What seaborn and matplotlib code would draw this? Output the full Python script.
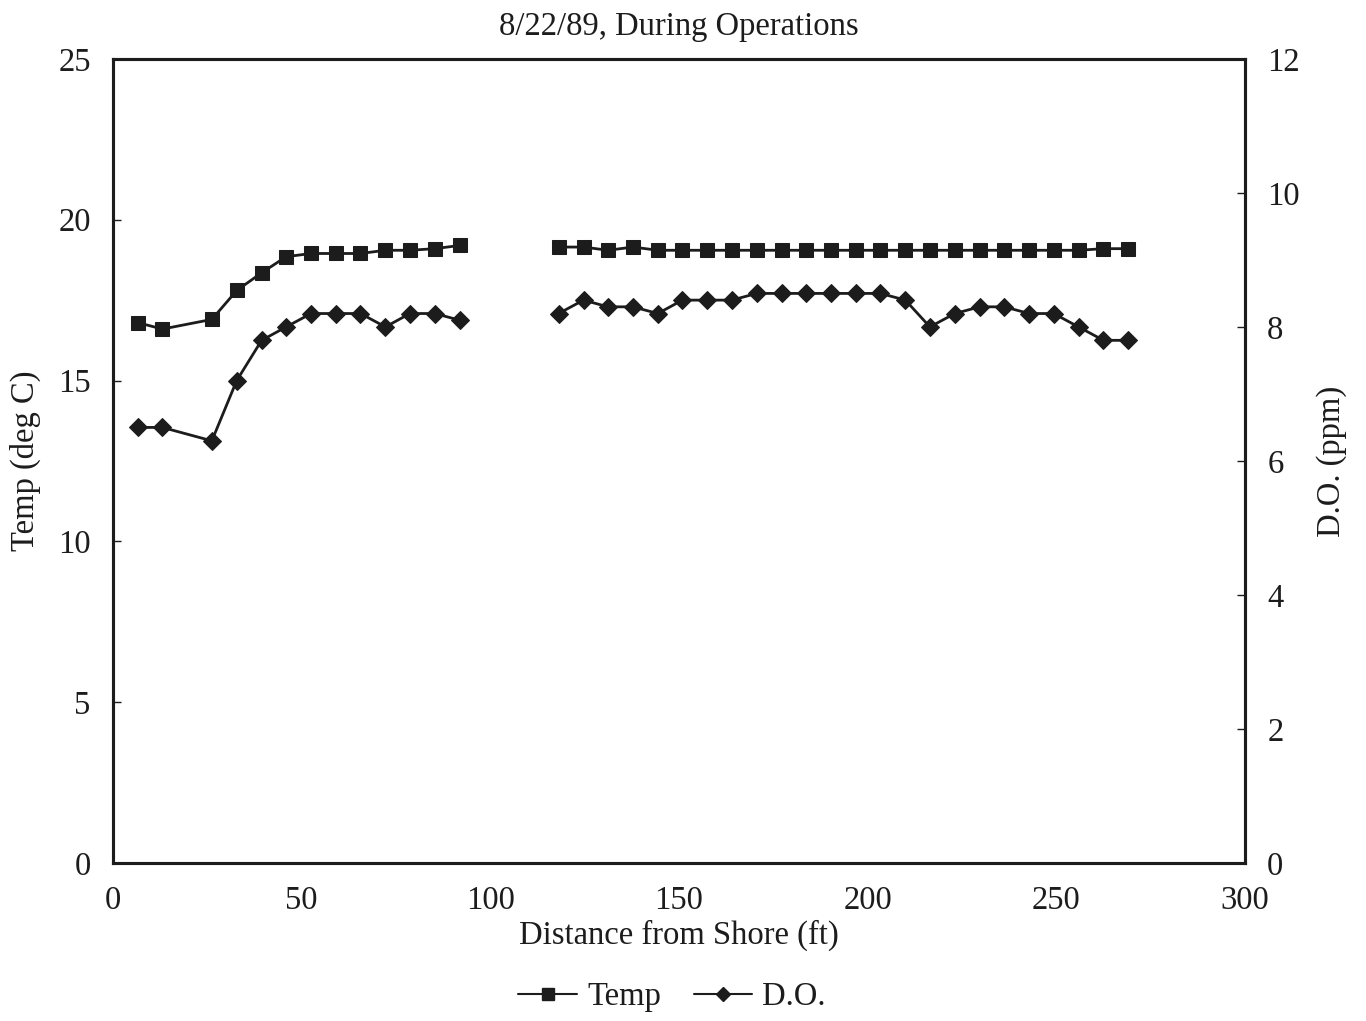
import pandas as pd
import matplotlib.pyplot as plt
import seaborn as sns
from matplotlib.lines import Line2D

# distance from shore (ft); the record has a gap between ~92 and ~118 ft
distance = [6.6, 13.1, 26.2, 32.8, 39.4, 45.9, 52.5, 59.1, 65.6, 72.2, 78.7, 85.3, 91.9,
            118.1, 124.7, 131.2, 137.8, 144.4, 150.9, 157.5, 164.0, 170.6, 177.2, 183.7,
            190.3, 196.9, 203.4, 210.0, 216.5, 223.1, 229.7, 236.2, 242.8, 249.3, 255.9,
            262.5, 269.0]
segment = [1] * 13 + [2] * 24

temp = [16.8, 16.6, 16.9, 17.8, 18.35, 18.85, 18.95, 18.95, 18.95, 19.05, 19.05, 19.1, 19.2,
        19.15, 19.15, 19.05, 19.15, 19.05, 19.05, 19.05, 19.05, 19.05, 19.05, 19.05, 19.05,
        19.05, 19.05, 19.05, 19.05, 19.05, 19.05, 19.05, 19.05, 19.05, 19.05, 19.1, 19.1]

do_ppm = [6.5, 6.5, 6.3, 7.2, 7.8, 8.0, 8.2, 8.2, 8.2, 8.0, 8.2, 8.2, 8.1,
          8.2, 8.4, 8.3, 8.3, 8.2, 8.4, 8.4, 8.4, 8.5, 8.5, 8.5, 8.5, 8.5, 8.5,
          8.4, 8.0, 8.2, 8.3, 8.3, 8.2, 8.2, 8.0, 7.8, 7.8]

x_ticks = [0, 50, 100, 150, 200, 250, 300]
temp_ticks = [0, 5, 10, 15, 20, 25]
do_ticks = [0, 2, 4, 6, 8, 10, 12]

sns.set_theme(style='white')
plt.rcParams['font.family'] = ['Liberation Serif', 'DejaVu Serif']

df = pd.DataFrame({'distance': distance, 'temp': temp, 'do': do_ppm, 'segment': segment})

ink = '#1c1c1c'
fs = 23.5

fig = plt.figure(figsize=(13.66, 10.21), dpi=100)
ax = fig.add_axes([0.0827, 0.1548, 0.8287, 0.7875])
ax2 = ax.twinx()

sns.lineplot(data=df, x='distance', y='temp', units='segment', estimator=None, ax=ax,
             color=ink, marker='s', markersize=10, markeredgecolor=ink, linewidth=2)
sns.lineplot(data=df, x='distance', y='do', units='segment', estimator=None, ax=ax2,
             color=ink, marker='D', markersize=9, markeredgecolor=ink, linewidth=2)

ax.set_xlim(0, 300)
ax.set_ylim(0, 25)
ax2.set_ylim(0, 12)
ax.set_xticks(x_ticks)
ax.set_yticks(temp_ticks)
ax2.set_yticks(do_ticks)

for a in (ax, ax2):
    for s in a.spines.values():
        s.set_linewidth(2.2)
        s.set_color(ink)
    a.tick_params(direction='in', length=6, width=1, colors=ink, labelsize=fs, pad=16)
    a.grid(False)

ax.set_xlabel('Distance from Shore (ft)', fontsize=fs, color=ink, labelpad=3)
ax.set_ylabel('Temp (deg C)', fontsize=fs, color=ink, labelpad=12)
ax2.set_ylabel('D.O. (ppm)', fontsize=fs, color=ink, labelpad=12)
ax.set_title('8/22/89, During Operations', fontsize=fs, color=ink, pad=17)

handles = [
    Line2D([], [], color=ink, marker='s', markersize=8, linewidth=1.5),
    Line2D([], [], color=ink, marker='D', markersize=7, linewidth=1.5),
]
fig.legend(handles, ['Temp', 'D.O.'], loc='center', bbox_to_anchor=(672 / 1366, 1 - 997 / 1021),
           ncol=2, frameon=False, fontsize=fs, handlelength=1.8, handletextpad=0.3,
           columnspacing=1.0, labelcolor=ink)

fig.savefig('out.png', dpi=100)
